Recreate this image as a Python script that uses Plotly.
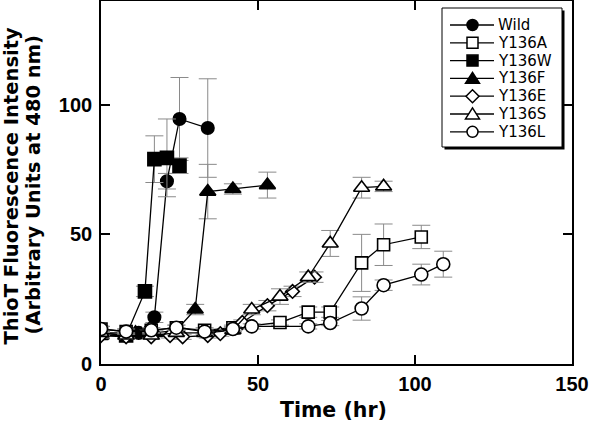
import plotly.graph_objects as go

# ---- data ----
wild_x = [0, 8, 12, 17, 21, 25, 34]
wild_y = [12, 12, 12, 18, 70.5, 94.5, 91]
wild_e = [1, 1, 1, 2, 3, 16, 19]

a_x = [0, 8, 16, 24, 33, 42, 57, 66, 73, 83, 90, 102]
a_y = [13.5, 12.5, 13, 14, 13, 14, 16, 20, 20, 39, 46, 49]
a_e = [1, 1, 1, 1, 1, 1, 1, 2, 2, 11, 8, 4.5]

w_x = [0, 8, 14, 17, 21, 25]
w_y = [12, 11, 28, 79, 79.5, 76.5]
w_e = [1, 1, 2, 9, 15, 3]

f_x = [0, 8, 11, 17, 24, 30, 34, 42, 53]
f_y = [11, 11, 12, 12, 13, 21, 66.5, 67.5, 69]
f_e = [1, 1, 1, 1, 1, 2, 10.5, 2, 5]

e_x = [0, 8, 16, 22, 26, 34, 38, 45, 53, 61, 68]
e_y = [11, 10.5, 10.5, 11, 10.5, 11, 11.7, 16, 22.5, 28, 33.5]
e_e = [1, 1, 1, 1, 1, 1, 1, 1, 2, 2, 2]

s_x = [0, 8, 16, 24, 33, 42, 48, 57, 66, 73, 83, 90]
s_y = [12, 11, 11, 12, 12, 13, 21, 26, 33.5, 46.5, 68, 68.5]
s_e = [1, 1, 1, 1, 1, 1, 2, 3, 2, 5, 4, 2]

l_x = [0, 8, 16, 24, 33, 42, 48, 66, 73, 83, 90, 102, 109]
l_y = [13.5, 12.5, 13, 14, 12.5, 13.5, 14.5, 14.5, 15.8, 21.4, 30.4, 34.5, 38.5]
l_e = [1, 1, 1, 1, 1, 1, 1, 1, 1, 4.5, 2, 4, 5]

x_ticks = [0, 50, 100, 150]
y_ticks = [0, 50, 100]

series = [
    ("Wild", wild_x, wild_y, wild_e, "circle", "black", 12.5),
    ("Y136A", a_x, a_y, a_e, "square", "white", 12),
    ("Y136W", w_x, w_y, w_e, "square", "black", 13),
    ("Y136F", f_x, f_y, f_e, "triangle-up", "black", 14),
    ("Y136E", e_x, e_y, e_e, "diamond", "white", 10.5),
    ("Y136S", s_x, s_y, s_e, "triangle-up", "white", 14),
    ("Y136L", l_x, l_y, l_e, "circle", "white", 13),
]

SANS = "Liberation Sans, Arial, Helvetica, sans-serif"
DEJA = "DejaVu Sans, sans-serif"

# plot-area pixel geometry
L, R, T, B = 101, 19, 1, 61
W, H = 591, 425
PW, PH = W - L - R, H - T - B


def px(x):
    return (x - L) / PW


def py(y):
    return (H - B - y) / PH


fig = go.Figure()
for name, xs, ys, es, sym, fill, sz in series:
    fig.add_trace(go.Scatter(
        x=xs, y=ys, name=name, mode="lines+markers",
        line=dict(color="black", width=1.3),
        marker=dict(symbol=sym, size=sz, color=fill,
                    line=dict(color="black", width=1.6)),
        error_y=dict(type="data", array=es, visible=True,
                     color="#8a8a8a", thickness=1, width=9),
        showlegend=False,
    ))

axis_common = dict(
    showline=True, linecolor="black", linewidth=1.6, mirror="ticks",
    ticks="inside", ticklen=9, tickwidth=1.5, tickcolor="black",
    showgrid=False, zeroline=False,
    tickfont=dict(family=SANS, size=20, color="black", weight="bold"),
)

# ---- hand-built legend (box with shadow, line+symbol, label) ----
shapes = []
annotations = []
bx0, by0, bx1, by1 = 442, 8, 562, 147
shapes.append(dict(type="rect", xref="paper", yref="paper", layer="above",
                   x0=px(bx0 + 2.5), x1=px(bx1 + 2.5), y0=py(by0 + 2.5), y1=py(by1 + 2.5),
                   fillcolor="black", line=dict(width=0)))
shapes.append(dict(type="rect", xref="paper", yref="paper", layer="above",
                   x0=px(bx0), x1=px(bx1), y0=py(by0), y1=py(by1),
                   fillcolor="white", line=dict(color="black", width=1)))
lx0, lx1, mx, tx = 450, 494, 472.5, 497
for i, (name, xs, ys, es, sym, fill, sz) in enumerate(series):
    yc = 25 + i * 17.8
    shapes.append(dict(type="line", xref="paper", yref="paper", layer="above",
                       x0=px(lx0), x1=px(lx1), y0=py(yc), y1=py(yc),
                       line=dict(color="black", width=1.3)))
    mline = dict(color="black", width=1.5)
    if sym == "circle":
        r = 5.5
        shapes.append(dict(type="circle", xref="paper", yref="paper", layer="above",
                           x0=px(mx - r), x1=px(mx + r), y0=py(yc - r), y1=py(yc + r),
                           fillcolor=fill, line=mline))
    elif sym == "square":
        r = 5.5
        shapes.append(dict(type="rect", xref="paper", yref="paper", layer="above",
                           x0=px(mx - r), x1=px(mx + r), y0=py(yc - r), y1=py(yc + r),
                           fillcolor=fill, line=mline))
    elif sym == "triangle-up":
        hw, h = 7, 11
        pts = [(mx - hw, yc + h * 0.45), (mx + hw, yc + h * 0.45), (mx, yc - h * 0.55)]
        path = "M" + " L".join(f"{px(a):.5f},{py(b):.5f}" for a, b in pts) + " Z"
        shapes.append(dict(type="path", xref="paper", yref="paper", layer="above",
                           path=path, fillcolor=fill, line=mline))
    elif sym == "diamond":
        r = 6.5
        pts = [(mx - r, yc), (mx, yc - r), (mx + r, yc), (mx, yc + r)]
        path = "M" + " L".join(f"{px(a):.5f},{py(b):.5f}" for a, b in pts) + " Z"
        shapes.append(dict(type="path", xref="paper", yref="paper", layer="above",
                           path=path, fillcolor=fill, line=mline))
    annotations.append(dict(text=name, xref="paper", yref="paper",
                            x=px(tx), y=py(yc), xanchor="left", yanchor="middle",
                            showarrow=False, borderpad=0,
                            font=dict(family=DEJA, size=15, color="black")))

# axis titles
annotations.append(dict(text="ThioT Fluorescence Intensity", xref="paper", yref="paper",
                        x=px(11), y=py(185.5), xanchor="center", yanchor="middle",
                        textangle=-90, showarrow=False, borderpad=0,
                        font=dict(family=DEJA, size=19.5, color="black", weight="bold")))
annotations.append(dict(text="(Arbitrary Units at 480 nm)", xref="paper", yref="paper",
                        x=px(33), y=py(185.5), xanchor="center", yanchor="middle",
                        textangle=-90, showarrow=False, borderpad=0,
                        font=dict(family=DEJA, size=19.5, color="black", weight="bold")))
annotations.append(dict(text="Time (hr)", xref="paper", yref="paper",
                        x=px(333.5), y=py(410), xanchor="center", yanchor="middle",
                        showarrow=False, borderpad=0,
                        font=dict(family=DEJA, size=20.5, color="black", weight="bold")))

fig.update_layout(
    width=W, height=H,
    margin=dict(l=L, r=R, t=T, b=B, autoexpand=False),
    plot_bgcolor="white", paper_bgcolor="white",
    xaxis=dict(range=[0, 150], tickvals=x_ticks, ticklabelstandoff=1, **axis_common),
    yaxis=dict(range=[0, 140], tickvals=y_ticks, ticklabelstandoff=3, **axis_common),
    showlegend=False,
    hovermode=False,
    shapes=shapes,
    annotations=annotations,
)

fig.write_html("out.html", config={"displayModeBar": False},
               post_script="document.body.style.margin='0px';")
